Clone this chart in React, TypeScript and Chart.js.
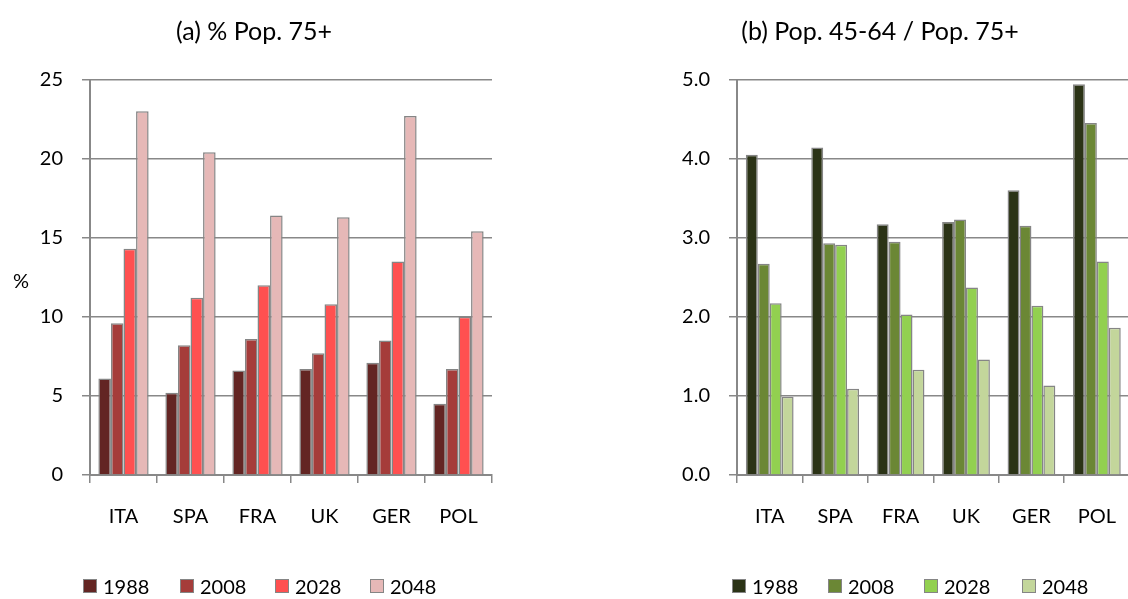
import React, { useEffect, useRef } from "react";
import { Chart, registerables } from "chart.js";

Chart.register(...registerables);

const categories = ["ITA", "SPA", "FRA", "UK", "GER", "POL"];
const seriesNames = ["1988", "2008", "2028", "2048"];

// (a) % Pop. 75+
const pctA1988 = [6.1, 5.2, 6.6, 6.7, 7.1, 4.5];
const pctA2008 = [9.6, 8.2, 8.6, 7.7, 8.5, 6.7];
const pctA2028 = [14.3, 11.2, 12.0, 10.8, 13.5, 10.0];
const pctA2048 = [23.0, 20.4, 16.4, 16.3, 22.7, 15.4];

// (b) Pop. 45-64 / Pop. 75+
const ratioB1988 = [4.05, 4.14, 3.17, 3.2, 3.6, 4.94];
const ratioB2008 = [2.67, 2.93, 2.95, 3.23, 3.15, 4.45];
const ratioB2028 = [2.17, 2.91, 2.03, 2.37, 2.14, 2.7];
const ratioB2048 = [0.99, 1.09, 1.33, 1.46, 1.13, 1.86];

const redColors = ["#632523", "#A53C3A", "#FF5050", "#E6B8B7"];
const greenColors = ["#2B3316", "#6B8735", "#92D050", "#C3D69B"];

const FONT = "Lato, 'Open Sans', sans-serif";
const GRID = "#888888";

type Cfg = {
  series: number[][];
  colors: string[];
  max: number;
  step: number;
  decimals: number;
  axisWidth: number;
  padRight: number;
  catPct: number;
};

function BarChart({ cfg, width, height }: { cfg: Cfg; width: number; height: number }) {
  const ref = useRef<HTMLCanvasElement>(null);
  useEffect(() => {
    if (!ref.current) return;
    const chart = new Chart(ref.current, {
      type: "bar",
      data: {
        labels: categories,
        datasets: cfg.series.map((d, i) => ({
          label: seriesNames[i],
          data: d,
          backgroundColor: cfg.colors[i],
          borderColor: "#858585",
          borderWidth: 1.5,
          categoryPercentage: cfg.catPct,
          barPercentage: 1,
        })),
      },
      options: {
        animation: false,
        responsive: false,
        maintainAspectRatio: false,
        layout: { padding: { top: 79.5, right: cfg.padRight, bottom: 64, left: 0 } },
        plugins: { legend: { display: false }, title: { display: false }, tooltip: { enabled: false } },
        scales: {
          x: {
            grid: {
              display: true,
              drawOnChartArea: false,
              drawTicks: true,
              tickLength: 8,
              color: GRID,
              lineWidth: 1.5,
              offset: true,
            },
            border: { display: true, color: GRID, width: 2 },
            ticks: { font: { family: FONT, size: 20 }, color: "#000", padding: 22 },
            afterFit: (s: any) => {
              s.height = 60;
            },
          },
          y: {
            min: 0,
            max: cfg.max,
            grid: { color: GRID, lineWidth: 1.5, drawTicks: true, tickLength: 8 },
            border: { display: true, color: GRID, width: 2 },
            ticks: {
              stepSize: cfg.step,
              font: { family: FONT, size: 20 },
              color: "#000",
              padding: 19,
              callback: (v: any) => Number(v).toFixed(cfg.decimals),
            },
            afterFit: (s: any) => {
              s.width = cfg.axisWidth;
            },
          },
        },
      },
    });
    return () => chart.destroy();
  }, []);
  return <canvas ref={ref} width={width} height={height} style={{ display: "block" }} />;
}

function Legend({ colors, lefts }: { colors: string[]; lefts: number[] }) {
  return (
    <>
      {seriesNames.map((n, i) => (
        <div
          key={n}
          style={{
            position: "absolute",
            left: lefts[i],
            top: 574,
            height: 24,
            display: "flex",
            alignItems: "center",
            fontFamily: FONT,
            fontSize: 20,
            color: "#000",
            whiteSpace: "nowrap",
          }}
        >
          <span
            style={{
              display: "inline-block",
              width: 12,
              height: 12,
              background: colors[i],
              border: "1.5px solid #858585",
              marginRight: 6,
            }}
          />
          {n}
        </div>
      ))}
    </>
  );
}

export default function App() {
  const cfgA: Cfg = {
    series: [pctA1988, pctA2008, pctA2028, pctA2048],
    colors: redColors,
    max: 25,
    step: 5,
    decimals: 0,
    axisWidth: 90,
    padRight: 72,
    catPct: 0.75,
  };
  const cfgB: Cfg = {
    series: [ratioB1988, ratioB2008, ratioB2028, ratioB2048],
    colors: greenColors,
    max: 5,
    step: 1,
    decimals: 1,
    axisWidth: 173,
    padRight: 0,
    catPct: 0.73,
  };
  const titleStyle: React.CSSProperties = {
    position: "absolute",
    top: 15,
    width: 400,
    textAlign: "center",
    fontFamily: FONT,
    fontSize: 25,
    lineHeight: "30px",
    color: "#000",
    whiteSpace: "nowrap",
  };
  return (
    <div
      style={{
        position: "fixed",
        left: 0,
        top: 0,
        width: 1128,
        height: 599,
        overflow: "hidden",
        background: "#fff",
      }}
    >
      <div style={{ position: "absolute", left: 0, top: 0 }}>
        <BarChart cfg={cfgA} width={564} height={599} />
      </div>
      <div style={{ position: "absolute", left: 564, top: 0 }}>
        <BarChart cfg={cfgB} width={574} height={599} />
      </div>
      <div style={{ ...titleStyle, left: 254 - 200 }}>(a) % Pop. 75+</div>
      <div style={{ ...titleStyle, left: 880 - 200 }}>(b) Pop. 45-64 / Pop. 75+</div>
      <div
        style={{
          position: "absolute",
          left: 13,
          top: 268,
          fontFamily: FONT,
          fontSize: 20,
          lineHeight: "24px",
          color: "#000",
        }}
      >
        %
      </div>
      <Legend colors={redColors} lefts={[83, 180, 275, 370]} />
      <Legend colors={greenColors} lefts={[732, 828, 924, 1022]} />
    </div>
  );
}
